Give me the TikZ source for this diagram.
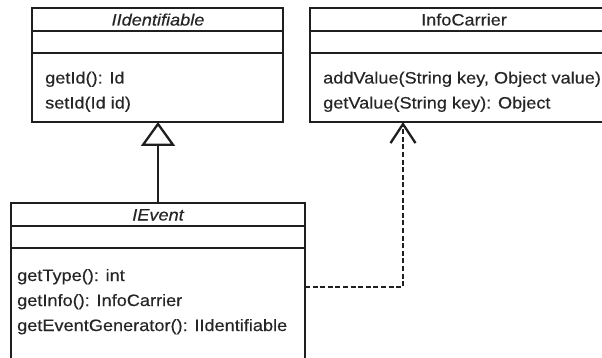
\documentclass[tikz,border=0pt]{standalone}
\usepackage{fontspec}
\setmainfont{Liberation Sans}[FakeStretch=1.1, FakeBold=0.35]
\usetikzlibrary{arrows.meta}
\begin{document}
\begin{tikzpicture}[x=1pt,y=-1pt,
  font=\fontsize{16.5}{19}\selectfont,
  classbox/.style={draw=black!88, line width=2.3pt, rectangle, inner sep=0pt, outer sep=0pt, anchor=north west},
  sepline/.style={draw=black!88, line width=2.3pt},
  txt/.style={inner sep=0pt, anchor=base west, text=black!85},
  ttl/.style={inner sep=0pt, anchor=base, text=black!85},
  inherit/.style={draw=black!88, line width=2.3pt, -{Triangle[open, length=24pt, width=34pt, line width=2.3pt]}},
  depend/.style={draw=black!88, line width=2.3pt, dash pattern=on 5pt off 2.6pt, -{Straight Barb[length=19pt, width=25pt, line width=2.3pt]}}
]
\useasboundingbox (0,0) rectangle (602,358);
% IIdentifiable
\node[classbox, minimum width=251pt, minimum height=114pt] (ident) at (32,8) {};
\draw[sepline] (32,31) -- (283,31);
\draw[sepline] (32,53) -- (283,53);
\node[ttl] (identT) at (158,25.5) {\itshape IIdentifiable};
\node[txt] (identM1) at (45,83.5) {getId(): Id};
\node[txt] (identM2) at (45,108.5) {setId(Id id)};
% InfoCarrier
\node[classbox, minimum width=310pt, minimum height=114pt] (info) at (310,8) {};
\draw[sepline] (310,31) -- (620,31);
\draw[sepline] (310,53) -- (620,53);
\node[ttl] (infoT) at (464,25.5) {InfoCarrier};
\node[txt] (infoM1) at (323,83.5) {addValue(String key, Object value)};
\node[txt] (infoM2) at (323,108.5) {getValue(String key): Object};
% IEvent
\node[classbox, minimum width=294pt, minimum height=162pt] (ievent) at (11,203) {};
\draw[sepline] (11,226) -- (305,226);
\draw[sepline] (11,248) -- (305,248);
\node[ttl] (ieventT) at (158,220.5) {\itshape IEvent};
\node[txt] (ieventM1) at (17,281) {getType(): int};
\node[txt] (ieventM2) at (17,306) {getInfo(): InfoCarrier};
\node[txt] (ieventM3) at (17,331) {getEventGenerator(): IIdentifiable};
% connectors
\draw[inherit] (ievent.north) -- (ievent.north |- ident.south);
\coordinate (dcorner) at (403,287);
\draw[depend] (ievent.east |- dcorner) -- (dcorner) -- (dcorner |- info.south);
\end{tikzpicture}
\end{document}
